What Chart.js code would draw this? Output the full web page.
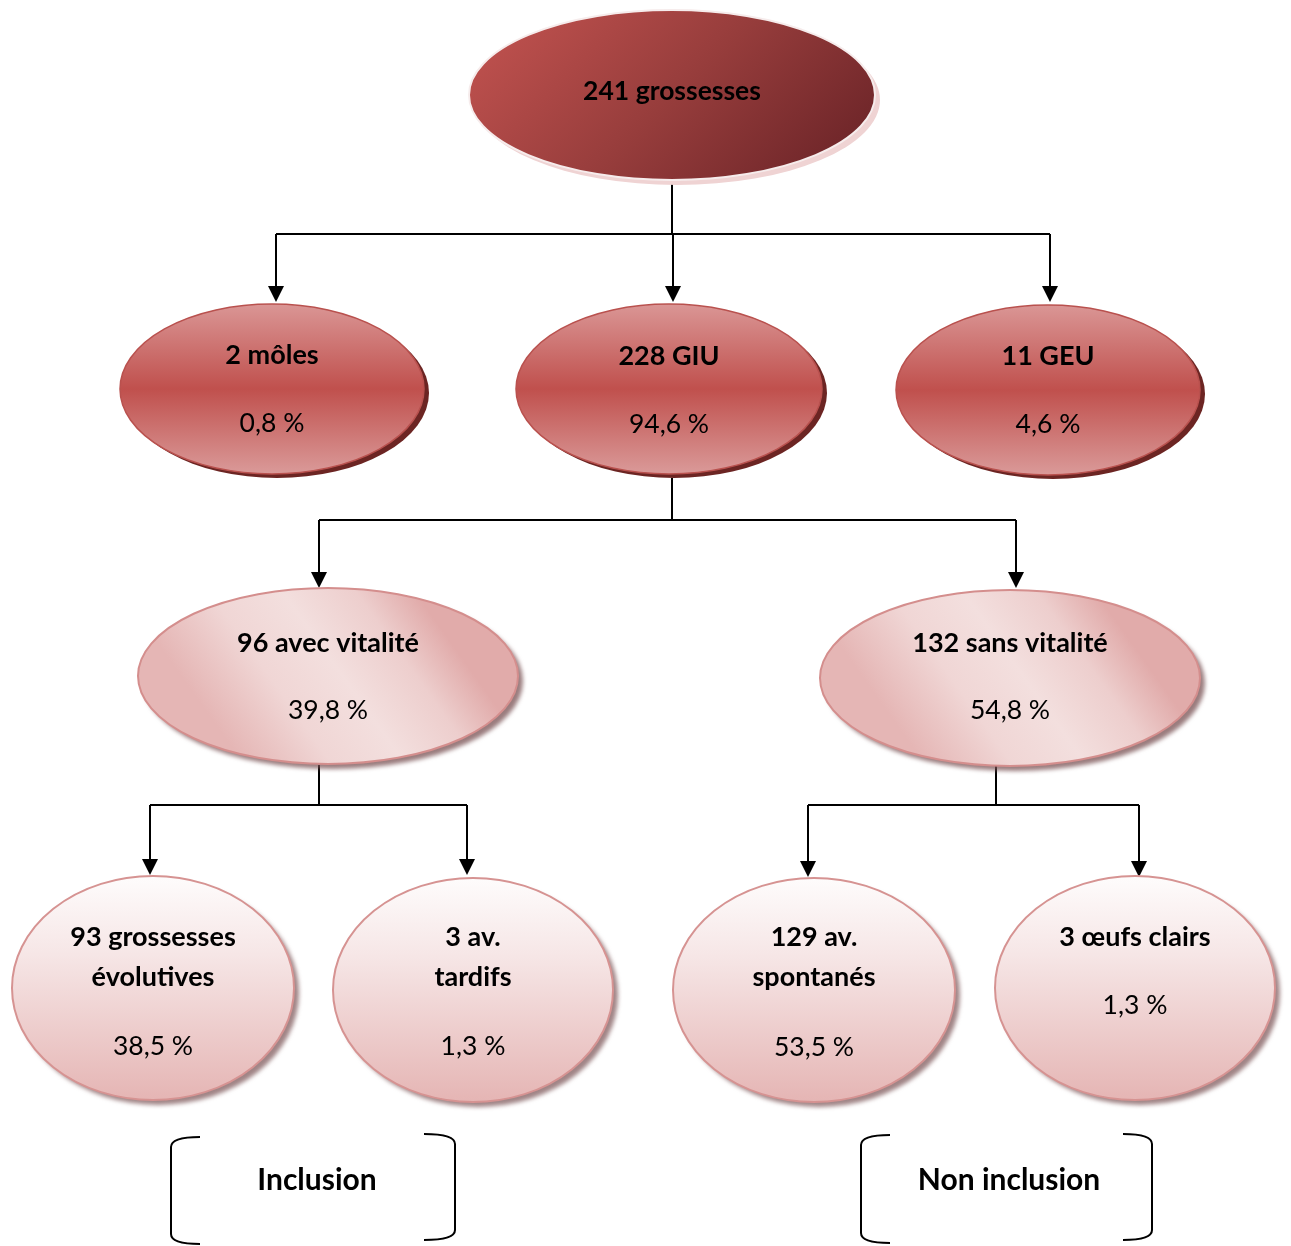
<!DOCTYPE html>
<html>
<head>
<meta charset="utf-8">
<script src="https://cdn.jsdelivr.net/npm/chart.js@4"></script>
<style>
html,body{margin:0;padding:0;background:#fff;}
#wrap{width:1291px;height:1246px;}
</style>
</head>
<body>
<div id="wrap"><canvas id="c" width="1291" height="1246"></canvas></div>
<script>
// ---- data ----
const nodeCounts   = [241, 2, 228, 11, 96, 132, 93, 3, 129, 3];
const nodeNames    = [["grossesses"], ["môles"], ["GIU"], ["GEU"], ["avec vitalité"], ["sans vitalité"],
                      ["grossesses", "évolutives"], ["av.", "tardifs"], ["av.", "spontanés"], ["œufs clairs"]];
const nodePercents = [null, 0.8, 94.6, 4.6, 39.8, 54.8, 38.5, 1.3, 53.5, 1.3];
const nodeParent   = [-1, 0, 0, 0, 2, 2, 4, 4, 5, 5];
const groupLabels  = ["Inclusion", "Non inclusion"];

// ---- layout (diagram units = pixels of the reference) ----
const nodeCX   = [672, 272, 669, 1048, 328, 1010, 153, 473, 814, 1135];
const nodeCY   = [95, 389, 389, 390, 676, 678, 988, 990, 990, 988];
const nodeRX   = [203, 152, 153, 152, 190, 190, 141, 140, 141, 140];
const nodeRY   = [85, 85, 85, 85, 88, 88, 112, 112, 112, 112];
const nodeStyle= ["dark", "mid", "mid", "mid", "light", "light", "vert", "vert", "vert", "vert"];
const inX      = [null, 276, 673, 1050, 319, 1016, 150, 467, 808, 1139];
const inY      = [null, 302, 302, 302, 588, 588, 875, 875, 877, 877];
const outX     = [672, null, 672, null, 319, 996];
const outY     = [180, null, 478, null, 765, 766];
const busY     = [234, null, 520, null, 805, 805];
const line1Y   = [91, 355, 356, 356, 643, 643, 937, 937, 937, 937];
const line2Y   = [null, null, null, null, null, null, 977, 977, 977, null];
const pctY     = [null, 423, 424, 424, 710, 710, 1046, 1046, 1047, 1005];
const groupTextX = [317, 1009];
const groupTextY = [1180, 1180];
const brLeftX  = [171, 861], brLeftEnd = [200, 890], brLeftTop = [1137, 1135], brLeftBot = [1244, 1243];
const brRightX = [455, 1152], brRightEnd = [424, 1123], brRightTop = [1134, 1134], brRightBot = [1240, 1240];

const FONT = "Lato, 'Open Sans', sans-serif";

function fmtPct(v){ return v.toFixed(1).replace('.', ',') + ' %'; }

const diagramPlugin = {
  id: 'diagram',
  afterDatasetsDraw(chart) {
    const ctx = chart.ctx;
    const xs = chart.scales.x, ys = chart.scales.y;
    const px = v => xs.getPixelForValue(v);
    const py = v => ys.getPixelForValue(v);
    const sx = Math.abs(px(1) - px(0)), sy = Math.abs(py(1) - py(0));

    // connectors
    ctx.save();
    ctx.strokeStyle = '#000';
    ctx.fillStyle = '#000';
    ctx.lineWidth = 2;
    for (let p = 0; p < outX.length; p++) {
      if (outX[p] == null) continue;
      const kids = [];
      nodeParent.forEach((q, i) => { if (q === p) kids.push(i); });
      if (!kids.length) continue;
      ctx.beginPath();
      ctx.moveTo(px(outX[p]), py(outY[p]));
      ctx.lineTo(px(outX[p]), py(busY[p]));
      ctx.stroke();
      const xsK = kids.map(k => inX[k]);
      ctx.beginPath();
      ctx.moveTo(px(Math.min(...xsK)), py(busY[p]));
      ctx.lineTo(px(Math.max(...xsK)), py(busY[p]));
      ctx.stroke();
      kids.forEach(k => {
        const ax = px(inX[k]), ay = py(inY[k]);
        ctx.beginPath();
        ctx.moveTo(ax, py(busY[p]));
        ctx.lineTo(ax, ay - 12);
        ctx.stroke();
        ctx.beginPath();
        ctx.moveTo(ax - 8, ay - 16);
        ctx.lineTo(ax + 8, ay - 16);
        ctx.lineTo(ax, ay);
        ctx.closePath();
        ctx.fill();
      });
    }
    ctx.restore();

    // ellipses
    for (let i = 0; i < nodeCounts.length; i++) {
      const cx = px(nodeCX[i]), cy = py(nodeCY[i]);
      const rx = nodeRX[i] * sx, ry = nodeRY[i] * sy;
      const st = nodeStyle[i];
      ctx.save();
      if (st === 'dark') {
        ctx.beginPath();
        ctx.ellipse(cx + 5, cy + 5, rx, ry, 0, 0, Math.PI * 2);
        ctx.fillStyle = '#efd3d3';
        ctx.fill();
        const d = (rx + ry) / 2.2;
        const g = ctx.createLinearGradient(cx - d, cy - d, cx + d, cy + d);
        g.addColorStop(0, '#c1524f');
        g.addColorStop(0.5, '#973d3c');
        g.addColorStop(1, '#6a2327');
        ctx.beginPath();
        ctx.ellipse(cx, cy, rx, ry, 0, 0, Math.PI * 2);
        ctx.fillStyle = g;
        ctx.fill();
        ctx.lineWidth = 2;
        ctx.strokeStyle = '#f6ecec';
        ctx.stroke();
      } else if (st === 'mid') {
        ctx.beginPath();
        ctx.ellipse(cx + 5, cy + 4, rx, ry, 0, 0, Math.PI * 2);
        ctx.fillStyle = '#6c2523';
        ctx.fill();
        const g = ctx.createLinearGradient(0, cy - ry, 0, cy + ry);
        g.addColorStop(0, '#da9695');
        g.addColorStop(0.5, '#c0504d');
        g.addColorStop(1, '#da9a99');
        ctx.beginPath();
        ctx.ellipse(cx, cy, rx, ry, 0, 0, Math.PI * 2);
        ctx.fillStyle = g;
        ctx.fill();
        ctx.lineWidth = 1.5;
        ctx.strokeStyle = '#b9514e';
        ctx.stroke();
      } else if (st === 'light') {
        ctx.shadowColor = 'rgba(120,80,82,0.75)';
        ctx.shadowBlur = 4;
        ctx.shadowOffsetX = 5;
        ctx.shadowOffsetY = 5;
        const d = (rx + ry) / 2;
        const g = ctx.createLinearGradient(cx - d * 0.7, cy + d * 0.5, cx + d * 0.7, cy - d * 0.5);
        g.addColorStop(0, '#e5b6b5');
        g.addColorStop(0.3, '#f0d6d5');
        g.addColorStop(0.55, '#f3dfde');
        g.addColorStop(0.8, '#edcecd');
        g.addColorStop(1, '#e1abaa');
        ctx.beginPath();
        ctx.ellipse(cx, cy, rx, ry, 0, 0, Math.PI * 2);
        ctx.fillStyle = g;
        ctx.fill();
        ctx.shadowColor = 'transparent';
        ctx.lineWidth = 2;
        ctx.strokeStyle = '#d48e8d';
        ctx.stroke();
      } else {
        ctx.shadowColor = 'rgba(120,80,82,0.7)';
        ctx.shadowBlur = 4;
        ctx.shadowOffsetX = 5;
        ctx.shadowOffsetY = 5;
        const g = ctx.createLinearGradient(0, cy - ry, 0, cy + ry);
        g.addColorStop(0, '#fefcfc');
        g.addColorStop(0.35, '#f6e6e6');
        g.addColorStop(1, '#e5b5b4');
        ctx.beginPath();
        ctx.ellipse(cx, cy, rx, ry, 0, 0, Math.PI * 2);
        ctx.fillStyle = g;
        ctx.fill();
        ctx.shadowColor = 'transparent';
        ctx.lineWidth = 2;
        ctx.strokeStyle = '#d69392';
        ctx.stroke();
      }
      ctx.restore();

      // text
      ctx.save();
      ctx.fillStyle = '#000';
      ctx.textAlign = 'center';
      ctx.textBaseline = 'middle';
      ctx.font = 'bold ' + (i === 0 ? 26.5 : 27) + 'px ' + FONT;
      const names = nodeNames[i];
      const first = nodeCounts[i] + ' ' + names[0];
      ctx.fillText(first, cx, py(line1Y[i]));
      if (names.length > 1) ctx.fillText(names[1], cx, py(line2Y[i]));
      if (nodePercents[i] != null) {
        ctx.font = '26.5px ' + FONT;
        ctx.fillText(fmtPct(nodePercents[i]), cx, py(pctY[i]));
      }
      ctx.restore();
    }

    // brackets
    ctx.save();
    ctx.strokeStyle = '#000';
    ctx.lineWidth = 2;
    for (let g = 0; g < groupLabels.length; g++) {
      let x = px(brLeftX[g]), e = px(brLeftEnd[g]), t = py(brLeftTop[g]), b = py(brLeftBot[g]);
      ctx.beginPath();
      ctx.moveTo(e, t);
      ctx.quadraticCurveTo(x, t, x, t + 10);
      ctx.lineTo(x, b - 10);
      ctx.quadraticCurveTo(x, b, e, b);
      ctx.stroke();
      x = px(brRightX[g]); e = px(brRightEnd[g]); t = py(brRightTop[g]); b = py(brRightBot[g]);
      ctx.beginPath();
      ctx.moveTo(e, t);
      ctx.quadraticCurveTo(x, t, x, t + 10);
      ctx.lineTo(x, b - 10);
      ctx.quadraticCurveTo(x, b, e, b);
      ctx.stroke();
      ctx.fillStyle = '#000';
      ctx.textAlign = 'center';
      ctx.textBaseline = 'middle';
      ctx.font = 'bold 30px ' + FONT;
      ctx.fillText(groupLabels[g], px(groupTextX[g]), py(groupTextY[g]));
    }
    ctx.restore();
  }
};

new Chart(document.getElementById('c'), {
  type: 'scatter',
  data: {
    datasets: [{
      data: nodeCounts.map((v, i) => ({ x: nodeCX[i], y: nodeCY[i], v })),
      pointRadius: 0,
      pointHoverRadius: 0
    }]
  },
  options: {
    responsive: false,
    animation: false,
    devicePixelRatio: 1,
    layout: { padding: 0 },
    plugins: { legend: { display: false }, tooltip: { enabled: false } },
    scales: {
      x: { type: 'linear', min: 0, max: 1291, display: false },
      y: { type: 'linear', min: 0, max: 1246, reverse: true, display: false }
    }
  },
  plugins: [diagramPlugin]
});
</script>
</body>
</html>
